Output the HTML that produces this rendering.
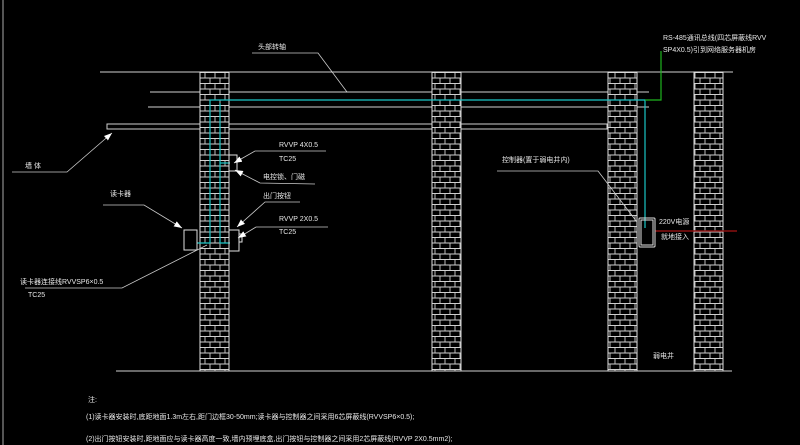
<!DOCTYPE html>
<html><head><meta charset="utf-8"><style>
html,body{margin:0;padding:0;background:#000;}
svg{display:block}
text{font-family:"Liberation Sans","Noto Sans CJK SC",sans-serif;fill:#e8e8e8;font-size:7px}
</style></head><body>
<svg width="800" height="445" viewBox="0 0 800 445" xmlns="http://www.w3.org/2000/svg">
<defs>
<pattern id="br" x="0" y="72" width="20" height="11" patternUnits="userSpaceOnUse">
<rect width="20" height="11" fill="#000"/>
<path d="M0 0.5H20M0 6H20M5 0V5.5M15 0V5.5M0 6V11M10 6V11M20 6V11" stroke="#cfcfcf" stroke-width="0.9" fill="none"/>
</pattern>
<marker id="ar" markerWidth="8" markerHeight="6" refX="8" refY="3" orient="auto" markerUnits="userSpaceOnUse"><path d="M0 0L8 3L0 6z" fill="#fff"/></marker>
</defs>
<line x1="3" y1="0" x2="3" y2="445" stroke="#aaa" stroke-width="1"/>
<g stroke="#d0d0d0" stroke-width="1" fill="none">
<line x1="100" y1="72" x2="733" y2="72"/>
<line x1="150" y1="92" x2="649" y2="92"/>
<line x1="148" y1="107" x2="649" y2="107"/>
<rect x="107" y="124" width="500" height="5"/>
<line x1="116" y1="371" x2="732" y2="371"/>
</g>
<g stroke="#e0e0e0" stroke-width="1">
<rect x="200" y="72" width="29" height="299" fill="url(#br)"/>
<rect x="432" y="72" width="29" height="299" fill="url(#br)"/>
<rect x="608" y="72" width="29" height="299" fill="url(#br)"/>
<rect x="694" y="72" width="29" height="299" fill="url(#br)"/>
</g>
<g stroke="#19c6c6" stroke-width="1.2" fill="none">
<polyline points="197,243 210,243 210,100 645,100 645,228"/>
<polyline points="220,103 220,243 230,243"/>
<line x1="220" y1="163" x2="230" y2="163"/>
</g>
<polyline points="645,100 661,100 661,51" stroke="#1fb51f" stroke-width="1.2" fill="none"/>
<line x1="655" y1="231" x2="737" y2="231" stroke="#8a1010" stroke-width="1.5"/>
<g stroke="#e0e0e0" stroke-width="1" fill="none">
<rect x="229" y="155" width="8" height="16"/>
<rect x="184" y="230" width="13" height="20"/>
<rect x="229" y="230" width="10" height="21"/>
<rect x="239" y="234" width="3" height="8"/>
<rect x="639" y="218" width="16" height="29" rx="1"/>
<rect x="641" y="220" width="12" height="25"/>
</g>
<g stroke="#ccc" stroke-width="0.8" fill="none">
<polyline points="252,53 318,53 347,92"/>
<polyline points="12,172 67,172 112,133" marker-end="url(#ar)"/>
<polyline points="326,151 255,151 234,163" marker-end="url(#ar)"/>
<polyline points="315,184 260,183 235,170" marker-end="url(#ar)"/>
<polyline points="103,205 144,205 182,228" marker-end="url(#ar)"/>
<polyline points="300,202 265,202 237,227" marker-end="url(#ar)"/>
<polyline points="328,227 256,227 238,238" marker-end="url(#ar)"/>
<polyline points="25,288 122,288 207,245"/>
<polyline points="497,171 598,171 637,222"/>
</g>
<text x="258" y="49">头部转轴</text>
<text x="25" y="168">墙 体</text>
<text x="279" y="147">RVVP 4X0.5</text>
<text x="279" y="161">TC25</text>
<text x="263" y="179">电控锁、门磁</text>
<text x="110" y="196">读卡器</text>
<text x="263" y="198">出门按钮</text>
<text x="279" y="221">RVVP 2X0.5</text>
<text x="279" y="234">TC25</text>
<text x="20" y="284">读卡器连接线RVVSP6×0.5</text>
<text x="28" y="297">TC25</text>
<text x="663" y="40">RS-485通讯总线(四芯屏蔽线RVV</text>
<text x="663" y="52">SP4X0.5)引到网络服务器机房</text>
<text x="502" y="162">控制器(置于弱电井内)</text>
<text x="659" y="224">220V电源</text>
<text x="661" y="239">就地接入</text>
<text x="653" y="358">弱电井</text>
<text x="88" y="402">注:</text>
<text x="86" y="419">(1)读卡器安装时,底距地面1.3m左右,距门边框30-50mm;读卡器与控制器之间采用6芯屏蔽线(RVVSP6×0.5);</text>
<text x="86" y="441">(2)出门按钮安装时,距地面应与读卡器高度一致,墙内预埋底盒,出门按钮与控制器之间采用2芯屏蔽线(RVVP 2X0.5mm2);</text>
</svg>
</body></html>
